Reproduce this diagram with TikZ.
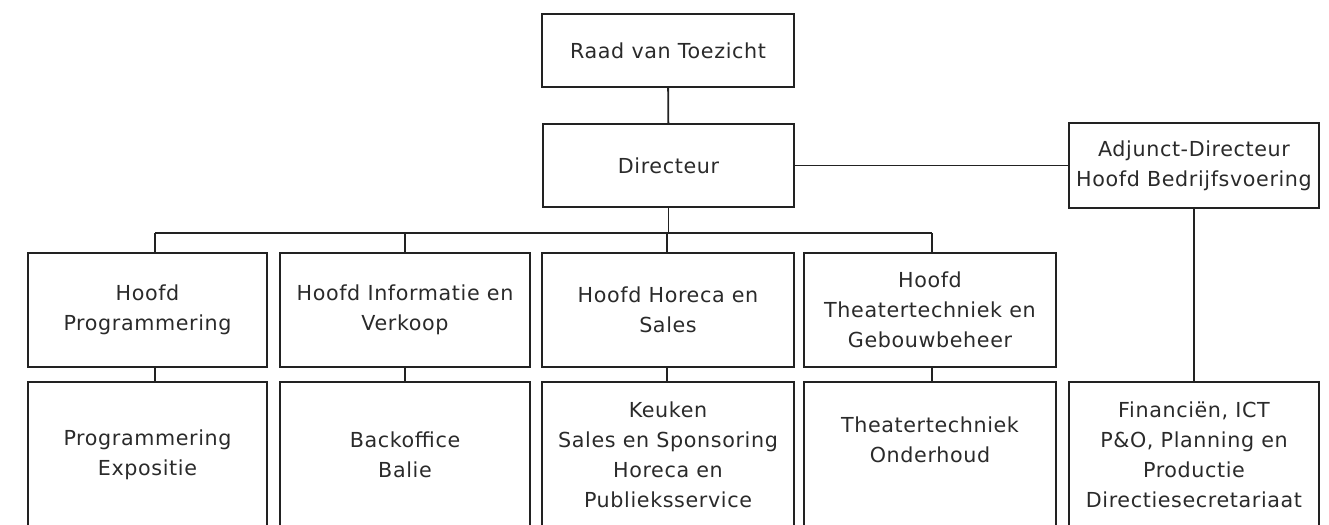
\documentclass[tikz,border=0pt]{standalone}
\usepackage{fontspec}
\setmainfont[LetterSpace=3]{DejaVu Sans}
\definecolor{linec}{HTML}{222222}
\definecolor{textc}{HTML}{2A2A2A}
\begin{document}
\begin{tikzpicture}[x=0.75pt,y=-0.75pt,
  box/.style={draw=linec, line width=1.4pt, rectangle, inner sep=0pt, align=center,
    font=\fontsize{15.5}{22.5}\selectfont, text=textc},
  conn/.style={draw=linec, line width=1.4pt}]
\path[use as bounding box] (0,0) rectangle (1329,525);
% top
\node[box, minimum width=0.75*252pt, minimum height=0.75*73pt] (raad) at (668,50.5) {Raad van Toezicht};
\node[box, minimum width=0.75*251pt, minimum height=0.75*83pt] (dir) at (668.5,165.5) {Directeur};
\node[box, minimum width=0.75*250pt, minimum height=0.75*85pt] (adj) at (1194,165.5) {Adjunct-Directeur\\Hoofd Bedrijfsvoering};
% row 1
\node[box, minimum width=0.75*239pt, minimum height=0.75*114pt] (h1) at (147.5,310) {Hoofd\\Programmering};
\node[box, minimum width=0.75*250pt, minimum height=0.75*114pt] (h2) at (405,310) {Hoofd Informatie en\\Verkoop};
\node[box, minimum width=0.75*252pt, minimum height=0.75*114pt] (h3) at (668,310) {Hoofd Horeca en\\Sales};
\node[box, minimum width=0.75*252pt, minimum height=0.75*114pt] (h4) at (930,310) {Hoofd\\Theatertechniek en\\Gebouwbeheer};
% row 2
\node[box, minimum width=0.75*239pt, minimum height=0.75*146pt] (s1) at (147.5,455) {Programmering\\Expositie};
\node[box, minimum width=0.75*250pt, minimum height=0.75*146pt] (s2) at (405,455) {Backoffice\\Balie};
\node[box, minimum width=0.75*252pt, minimum height=0.75*146pt] (s3) at (668,455) {Keuken\\Sales en Sponsoring\\Horeca en\\Publieksservice};
\node[box, minimum width=0.75*252pt, minimum height=0.75*146pt] (s4) at (930,455) {Theatertechniek\\Onderhoud\\~};
\node[box, minimum width=0.75*250pt, minimum height=0.75*146pt] (s5) at (1194,455) {Financiën, ICT\\P\&O, Planning en\\Productie\\Directiesecretariaat};
% connectors
\coordinate (k1) at (155,233);
\coordinate (k2) at (405,233);
\coordinate (k3) at (667,233);
\coordinate (k4) at (932,233);
\draw[conn] (raad) -- (dir);
\draw[conn] (dir) -- (adj);
\draw[conn] (adj) -- (s5);
\draw[conn] (dir.south) -- (dir.south |- k1);
\draw[conn] (k1) -- (k4);
\foreach \i in {1,2,3,4}{
  \draw[conn] (k\i) -- (k\i |- h\i.north);
  \draw[conn] (k\i |- h\i.south) -- (k\i |- s\i.north);
}
\end{tikzpicture}
\end{document}
